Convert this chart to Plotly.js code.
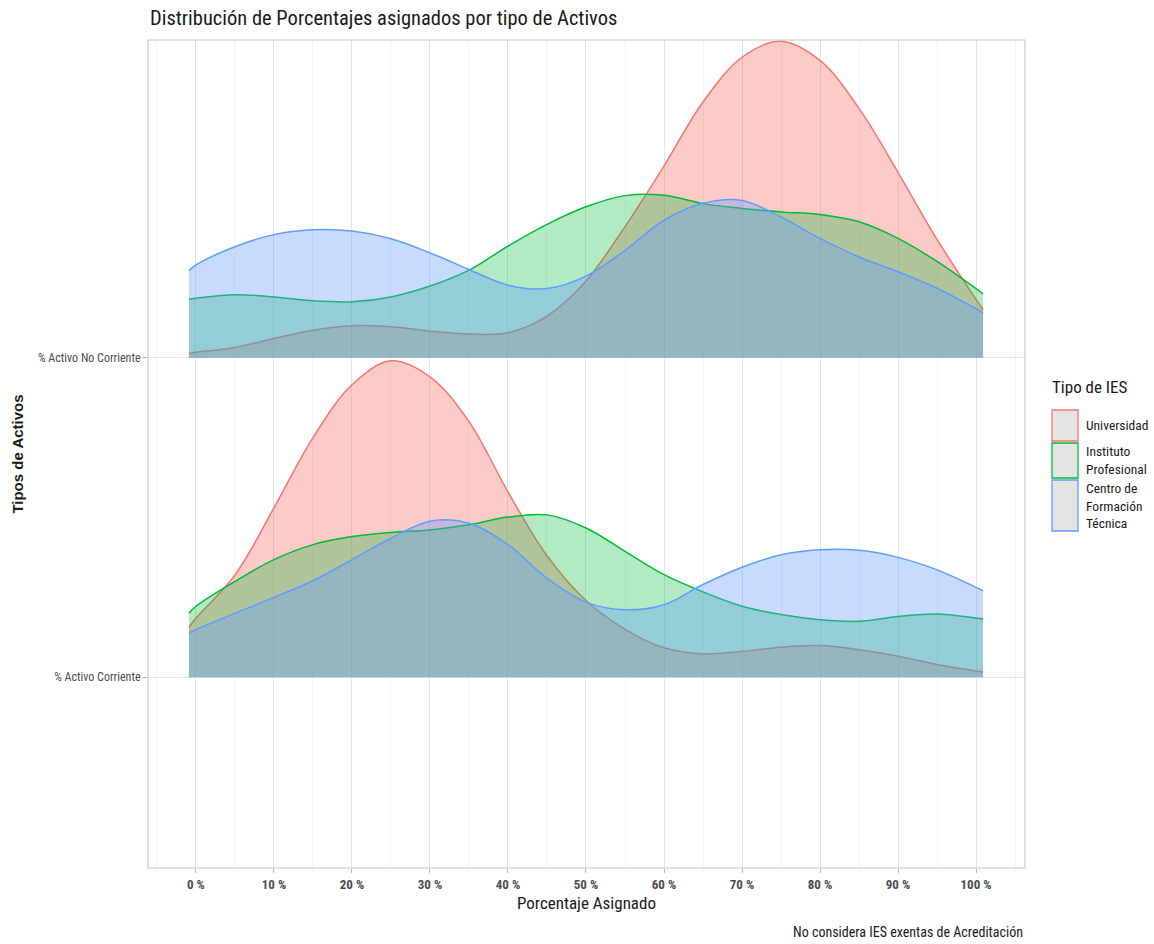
<!DOCTYPE html>
<html>
<head>
<meta charset="utf-8">
<script src="https://cdn.plot.ly/plotly-3.0.1.min.js"></script>
<style>
  html, body { margin: 0; padding: 0; background: #ffffff; }
  #chart { width: 1154px; height: 944px; }
</style>
</head>
<body>
<div id="chart"></div>
<script>
// ---------- DATA ----------
const groups = ["Universidad", "Instituto Profesional", "Centro de Formación Técnica"];
const legendLabels = ["Universidad", "Instituto<br>Profesional", "Centro de<br>Formación<br>Técnica"];
const rowLabels = ["% Activo Corriente", "% Activo No Corriente"];
const rowPositions = [1, 2];

// x positions (% asignado) at which ridge heights were read
const xPct = [-0.9, 0, 5, 10, 15, 20, 25, 30, 35, 40, 45, 50, 55, 60, 65, 70, 75, 80, 85, 90, 95, 100.9];

// ridge heights (scaled density) – "% Activo No Corriente"
const uniNoCorriente = [0.014, 0.017, 0.032, 0.060, 0.086, 0.100, 0.097, 0.083, 0.074, 0.078, 0.130, 0.240, 0.410, 0.600, 0.800, 0.940, 0.990, 0.930, 0.780, 0.580, 0.370, 0.150];
const ipNoCorriente  = [0.183, 0.186, 0.197, 0.190, 0.178, 0.175, 0.190, 0.224, 0.274, 0.349, 0.417, 0.472, 0.507, 0.508, 0.482, 0.467, 0.456, 0.448, 0.425, 0.373, 0.301, 0.200];
const cftNoCorriente = [0.272, 0.290, 0.347, 0.385, 0.400, 0.396, 0.372, 0.328, 0.276, 0.227, 0.216, 0.255, 0.336, 0.430, 0.483, 0.492, 0.440, 0.373, 0.315, 0.269, 0.217, 0.141];

// ridge heights (scaled density) – "% Activo Corriente"
const uniCorriente = [0.156, 0.185, 0.320, 0.530, 0.750, 0.915, 0.990, 0.940, 0.800, 0.580, 0.380, 0.240, 0.150, 0.092, 0.073, 0.081, 0.094, 0.099, 0.086, 0.066, 0.040, 0.016];
const ipCorriente  = [0.200, 0.222, 0.300, 0.368, 0.415, 0.440, 0.453, 0.461, 0.477, 0.501, 0.508, 0.467, 0.394, 0.321, 0.267, 0.222, 0.196, 0.180, 0.175, 0.190, 0.198, 0.182];
const cftCorriente = [0.139, 0.149, 0.200, 0.250, 0.302, 0.368, 0.435, 0.488, 0.482, 0.415, 0.310, 0.235, 0.211, 0.227, 0.290, 0.344, 0.383, 0.399, 0.397, 0.375, 0.336, 0.271];

const xTickVals = [0, 10, 20, 30, 40, 50, 60, 70, 80, 90, 100];

// ---------- STYLE ----------
const lineColors = ["#F8766D", "#00BA38", "#619CFF"];
const fillColors = ["rgba(248,118,109,0.38)", "rgba(0,186,56,0.30)", "rgba(97,156,255,0.36)"];
const condensed = "'Roboto Condensed', 'Liberation Sans Narrow', 'Arial Narrow', Roboto, sans-serif";

const rows = [
  { base: rowPositions[0], series: [uniCorriente, ipCorriente, cftCorriente] },
  { base: rowPositions[1], series: [uniNoCorriente, ipNoCorriente, cftNoCorriente] }
];

const traces = [];
rows.forEach(row => {
  row.series.forEach((h, gi) => {
    traces.push({
      type: "scatter", mode: "lines",
      x: xPct, y: xPct.map(() => row.base),
      line: { width: 0, color: "rgba(0,0,0,0)" },
      hoverinfo: "skip", showlegend: false
    });
    traces.push({
      type: "scatter", mode: "lines",
      name: groups[gi],
      x: xPct, y: h.map(v => row.base + v),
      fill: "tonexty", fillcolor: fillColors[gi],
      line: { color: lineColors[gi], width: 1.5, shape: "spline", smoothing: 1 },
      showlegend: false
    });
  });
});

// plot-area geometry (pixels) for the manual legend
const W = 1154, H = 944;
const M = { l: 148, r: 129, t: 40, b: 76 };
const pw = W - M.l - M.r, ph = H - M.t - M.b;
const px = x => (x - M.l) / pw;
const py = y => (H - M.b - y) / ph;

const shapes = [];
const annotations = [];
// legend title
annotations.push({ xref: "paper", yref: "paper", x: px(1050), y: py(387), xanchor: "left", yanchor: "middle",
  text: "Tipo de IES", showarrow: false, font: { family: condensed, size: 17, color: "#1a1a1a" } });
const keyBoxes = [[410, 441], [443, 478], [480, 531]];
keyBoxes.forEach((b, i) => {
  shapes.push({ type: "rect", xref: "paper", yref: "paper", x0: px(1052), x1: px(1078), y0: py(b[1]), y1: py(b[0]),
    fillcolor: "#e4e4e4", line: { color: lineColors[i], width: 1.3 } });
  annotations.push({ xref: "paper", yref: "paper", x: px(1084), y: py((b[0] + b[1]) / 2), xanchor: "left", yanchor: "middle",
    align: "left", text: legendLabels[i], showarrow: false,
    font: { family: condensed, size: 13.5, color: "#1a1a1a" } });
});
// caption
annotations.push({ xref: "paper", yref: "paper", x: 1, y: py(932), xanchor: "right", yanchor: "middle",
  text: "No considera IES exentas de Acreditación", showarrow: false,
  font: { family: condensed, size: 14, color: "#1a1a1a" } });
// panel border
shapes.push({ type: "rect", xref: "paper", yref: "paper", x0: 0, x1: 1, y0: 0, y1: 1,
  line: { color: "#c8c8c8", width: 1.2 }, layer: "above" });

const layout = {
  width: W, height: H,
  margin: M,
  paper_bgcolor: "#ffffff", plot_bgcolor: "#ffffff",
  showlegend: false,
  title: { text: "Distribución de Porcentajes asignados por tipo de Activos",
    x: px(150), xref: "paper", xanchor: "left", y: 1 - 18 / H, yref: "container", yanchor: "middle",
    font: { family: condensed, size: 20.5, color: "#1a1a1a" } },
  xaxis: {
    range: [-6.15, 106.28],
    tickvals: xTickVals, ticktext: xTickVals.map(v => v + " %"),
    showgrid: true, gridcolor: "#e3e3e3", gridwidth: 1,
    minor: { dtick: 5, tick0: -5, showgrid: true, gridcolor: "#f0f0f0", gridwidth: 0.8 },
    ticks: "outside", ticklen: 4, tickcolor: "#b3b3b3", tickwidth: 1,
    zeroline: false, showline: false,
    tickfont: { family: condensed, size: 13, color: "#4d4d4d", weight: "bold" },
    title: { text: "Porcentaje Asignado", standoff: 6, font: { family: condensed, size: 17, color: "#1a1a1a" } }
  },
  yaxis: {
    range: [0.403, 2.994],
    tickvals: rowPositions, ticktext: rowLabels,
    showgrid: true, gridcolor: "#e3e3e3", gridwidth: 1,
    ticks: "outside", ticklen: 4, tickcolor: "#b3b3b3",
    zeroline: false, showline: false,
    tickfont: { family: condensed, size: 12, color: "#4d4d4d" },
    title: { text: "Tipos de Activos", standoff: 10, font: { family: "'Liberation Sans', Arial, sans-serif", size: 15, color: "#1a1a1a", weight: "bold" } }
  },
  shapes: shapes,
  annotations: annotations
};

Plotly.newPlot("chart", traces, layout, { displayModeBar: false, staticPlot: true });
</script>
</body>
</html>
